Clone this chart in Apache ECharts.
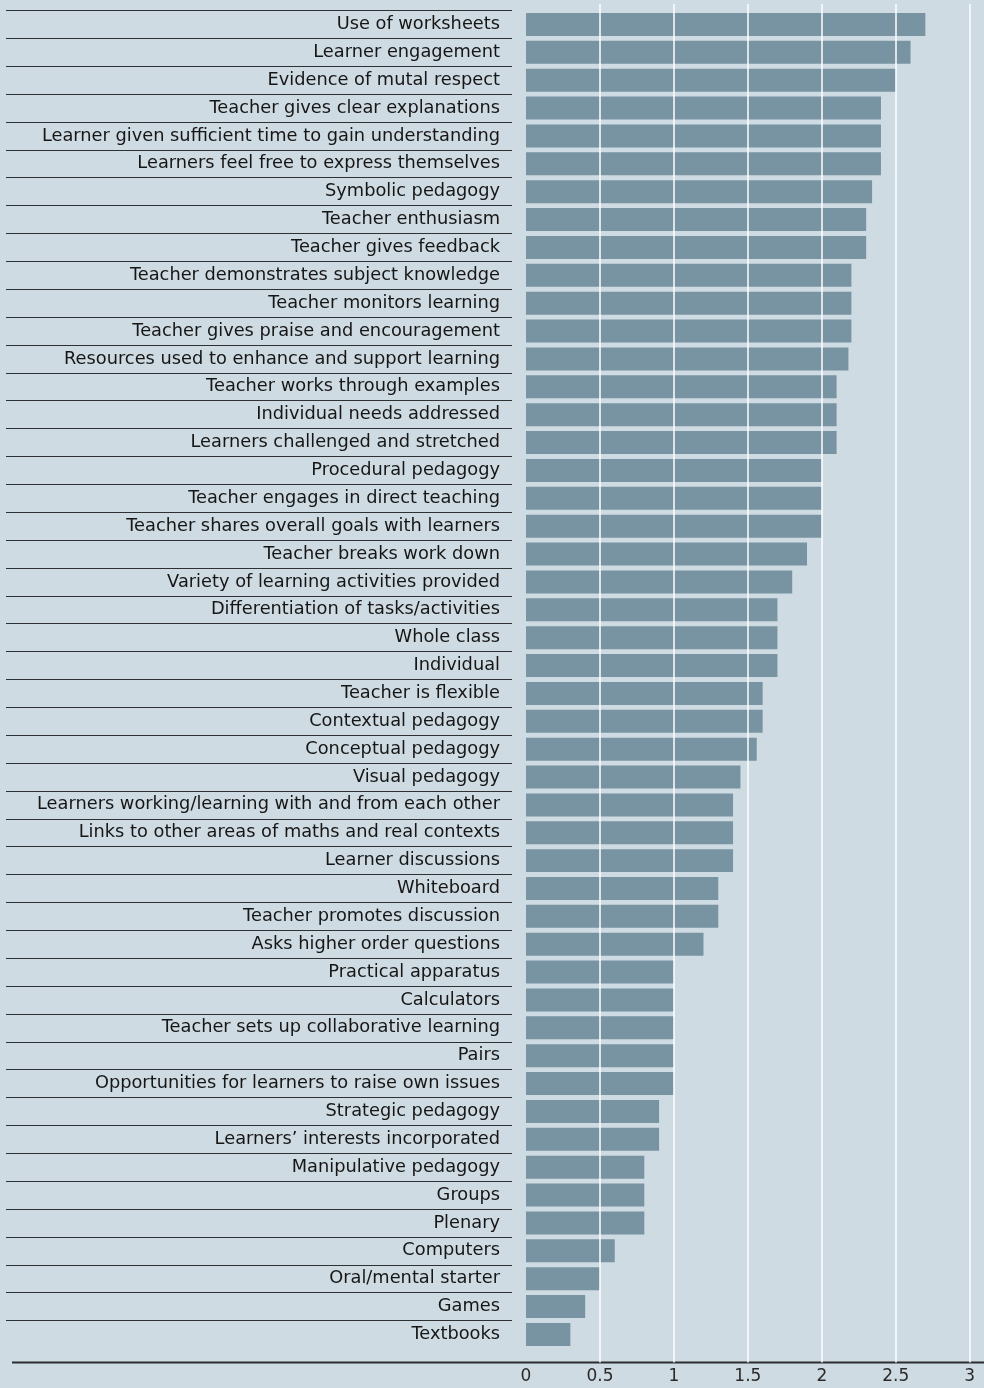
<!DOCTYPE html>
<html>
<head>
<meta charset="utf-8">
<script src="https://cdn.jsdelivr.net/npm/echarts@6/dist/echarts.min.js"></script>
<style>
  html, body { margin: 0; padding: 0; background: #cfdbe2; }
  #chart { width: 984px; height: 1388px; }
</style>
</head>
<body>
<div id="chart"></div>
<script>
// categories listed top to bottom as in the picture
const categories = [
  'Use of worksheets',
  'Learner engagement',
  'Evidence of mutal respect',
  'Teacher gives clear explanations',
  'Learner given sufficient time to gain understanding',
  'Learners feel free to express themselves',
  'Symbolic pedagogy',
  'Teacher enthusiasm',
  'Teacher gives feedback',
  'Teacher demonstrates subject knowledge',
  'Teacher monitors learning',
  'Teacher gives praise and encouragement',
  'Resources used to enhance and support learning',
  'Teacher works through examples',
  'Individual needs addressed',
  'Learners challenged and stretched',
  'Procedural pedagogy',
  'Teacher engages in direct teaching',
  'Teacher shares overall goals with learners',
  'Teacher breaks work down',
  'Variety of learning activities provided',
  'Differentiation of tasks/activities',
  'Whole class',
  'Individual',
  'Teacher is flexible',
  'Contextual pedagogy',
  'Conceptual pedagogy',
  'Visual pedagogy',
  'Learners working/learning with and from each other',
  'Links to other areas of maths and real contexts',
  'Learner discussions',
  'Whiteboard',
  'Teacher promotes discussion',
  'Asks higher order questions',
  'Practical apparatus',
  'Calculators',
  'Teacher sets up collaborative learning',
  'Pairs',
  'Opportunities for learners to raise own issues',
  'Strategic pedagogy',
  'Learners\u2019 interests incorporated',
  'Manipulative pedagogy',
  'Groups',
  'Plenary',
  'Computers',
  'Oral/mental starter',
  'Games',
  'Textbooks'
]
const scores = [
  2.7, 2.6, 2.5, 2.4, 2.4, 2.4, 2.34, 2.3, 2.3, 2.2,
  2.2, 2.2, 2.18, 2.1, 2.1, 2.1, 2.0, 2.0, 2.0, 1.9,
  1.8, 1.7, 1.7, 1.7, 1.6, 1.6, 1.56, 1.45, 1.4, 1.4,
  1.4, 1.3, 1.3, 1.2, 1.0, 1.0, 1.0, 1.0, 1.0, 0.9,
  0.9, 0.8, 0.8, 0.8, 0.6, 0.5, 0.4, 0.3
]
const xMin = 0
const xMax = 3
const xStep = 0.5

// axis runs bottom-up, so reverse
const cats = categories.slice().reverse()
const vals = scores.slice().reverse()

const font = 'DejaVu Sans'
const chart = echarts.init(document.getElementById('chart'))

chart.setOption({
  backgroundColor: '#cfdbe2',
  animation: false,
  grid: [
    // bars
    {left: 526, right: 14.3, top: 10.5, bottom: 39.6},
    // white grid lines + tick labels
    {left: 526, right: 14.3, top: 4, bottom: 25.5},
    // row separators under the labels
    {left: 6, right: 472, top: 10.5, bottom: 39.6}
  ],
  xAxis: [
    {gridIndex: 0, type: 'value', min: xMin, max: xMax, show: false},
    {
      gridIndex: 1, type: 'value', min: xMin, max: xMax, interval: xStep, z: 5,
      axisLine: {show: false},
      axisTick: {show: false},
      splitLine: {show: true, showMinLine: false, lineStyle: {color: '#ffffff', width: 1.5}},
      axisLabel: {color: '#2a2a2a', fontFamily: font, fontSize: 17, margin: 6}
    },
    {gridIndex: 2, type: 'value', show: false}
  ],
  yAxis: [
    {
      gridIndex: 0, type: 'category', data: cats,
      axisLine: {show: false},
      axisTick: {show: false},
      axisLabel: {color: '#161616', fontFamily: font, fontSize: 17.8, margin: 26, interval: 0}
    },
    {gridIndex: 1, type: 'value', show: false},
    {
      gridIndex: 2, type: 'category', data: cats,
      axisLine: {show: false},
      axisTick: {show: false},
      axisLabel: {show: false},
      splitLine: {
        show: true,
        // skip the bottom edge
        interval: (index) => index !== 0,
        lineStyle: {color: '#2e3134', width: 1}
      }
    }
  ],
  graphic: [
    {
      type: 'line',
      shape: {x1: 12, y1: 1362.5, x2: 984, y2: 1362.5},
      style: {stroke: '#2b2d30', lineWidth: 2}
    }
  ],
  series: [
    {
      type: 'bar',
      xAxisIndex: 0,
      yAxisIndex: 0,
      data: vals,
      barCategoryGap: '17.5%',
      itemStyle: {color: '#7893a2'}
    }
  ]
})
</script>
</body>
</html>
